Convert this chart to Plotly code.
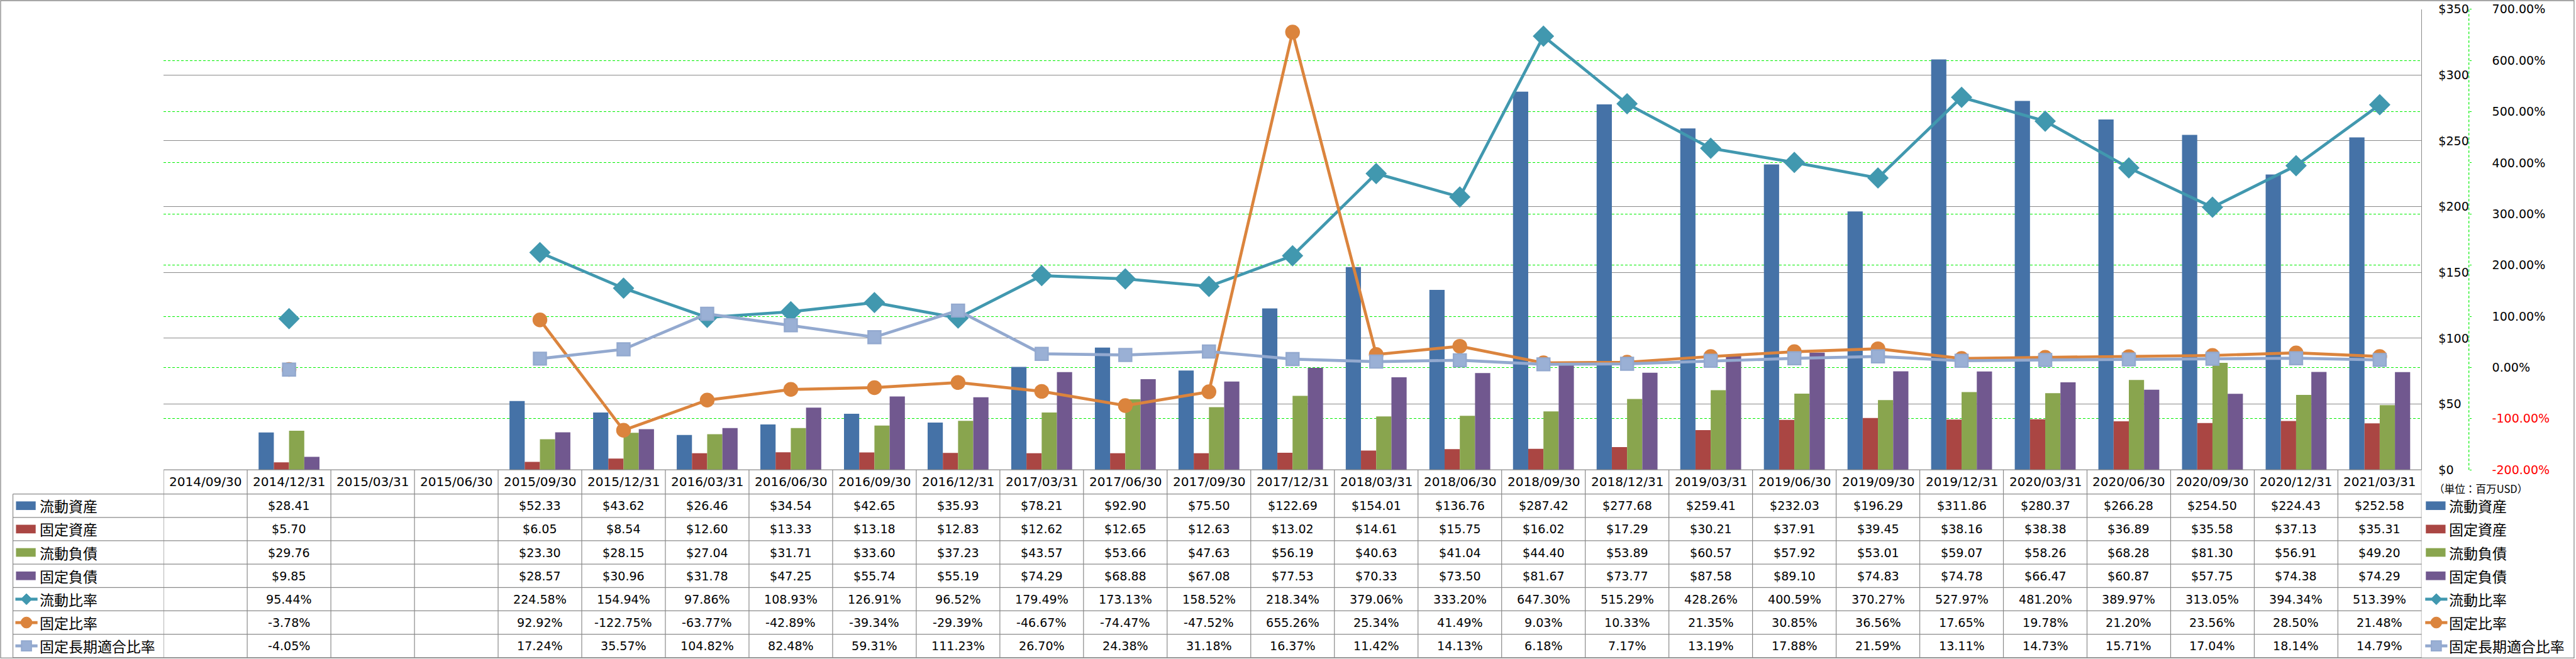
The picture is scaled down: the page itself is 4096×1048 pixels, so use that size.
import plotly.graph_objects as go

# ---------------- data ----------------
categories = ["2014/09/30", "2014/12/31", "2015/03/31", "2015/06/30", "2015/09/30", "2015/12/31",
              "2016/03/31", "2016/06/30", "2016/09/30", "2016/12/31", "2017/03/31", "2017/06/30",
              "2017/09/30", "2017/12/31", "2018/03/31", "2018/06/30", "2018/09/30", "2018/12/31",
              "2019/03/31", "2019/06/30", "2019/09/30", "2019/12/31", "2020/03/31", "2020/06/30",
              "2020/09/30", "2020/12/31", "2021/03/31"]

current_assets = [None, 28.41, None, None, 52.33, 43.62, 26.46, 34.54, 42.65, 35.93, 78.21, 92.90, 75.50,
                  122.69, 154.01, 136.76, 287.42, 277.68, 259.41, 232.03, 196.29, 311.86, 280.37, 266.28,
                  254.50, 224.43, 252.58]
fixed_assets = [None, 5.70, None, None, 6.05, 8.54, 12.60, 13.33, 13.18, 12.83, 12.62, 12.65, 12.63,
                13.02, 14.61, 15.75, 16.02, 17.29, 30.21, 37.91, 39.45, 38.16, 38.38, 36.89, 35.58,
                37.13, 35.31]
current_liabilities = [None, 29.76, None, None, 23.30, 28.15, 27.04, 31.71, 33.60, 37.23, 43.57, 53.66, 47.63,
                       56.19, 40.63, 41.04, 44.40, 53.89, 60.57, 57.92, 53.01, 59.07, 58.26, 68.28, 81.30,
                       56.91, 49.20]
fixed_liabilities = [None, 9.85, None, None, 28.57, 30.96, 31.78, 47.25, 55.74, 55.19, 74.29, 68.88, 67.08,
                     77.53, 70.33, 73.50, 81.67, 73.77, 87.58, 89.10, 74.83, 74.78, 66.47, 60.87, 57.75,
                     74.38, 74.29]
current_ratio = [None, 95.44, None, None, 224.58, 154.94, 97.86, 108.93, 126.91, 96.52, 179.49, 173.13, 158.52,
                 218.34, 379.06, 333.20, 647.30, 515.29, 428.26, 400.59, 370.27, 527.97, 481.20, 389.97,
                 313.05, 394.34, 513.39]
fixed_ratio = [None, -3.78, None, None, 92.92, -122.75, -63.77, -42.89, -39.34, -29.39, -46.67, -74.47, -47.52,
               655.26, 25.34, 41.49, 9.03, 10.33, 21.35, 30.85, 36.56, 17.65, 19.78, 21.20, 23.56, 28.50, 21.48]
fixed_lt_ratio = [None, -4.05, None, None, 17.24, 35.57, 104.82, 82.48, 59.31, 111.23, 26.70, 24.38, 31.18,
                  16.37, 11.42, 14.13, 6.18, 7.17, 13.19, 17.88, 21.59, 13.11, 14.73, 15.71, 17.04, 18.14, 14.79]

bar_names = ["流動資産", "固定資産", "流動負債", "固定負債"]
line_names = ["流動比率", "固定比率", "固定長期適合比率"]
unit_label = "（単位：百万USD）"

left_ticks = [0, 50, 100, 150, 200, 250, 300, 350]
right_ticks = [-200, -100, 0, 100, 200, 300, 400, 500, 600, 700]

# ---------------- styles ----------------
bar_colors = ["#4572A7", "#AA4643", "#89A54E", "#71588F"]
line_colors = ["#4198AF", "#DB843D", "#93A9CF"]
marker_symbols = ["diamond", "circle", "square"]

W, H = 4096, 1048
S = 0.978
GRID_GRAY = "#8A8A8A"
GREEN = "#00F000"
FONT_NUM = "DejaVu Sans"
FONT_CJK = "Noto Sans CJK JP"


def X(px):
    return px * S / W


def Y(py):
    return 1 - py * S / H


fig = go.Figure()

bar_series = [current_assets, fixed_assets, current_liabilities, fixed_liabilities]
for name, vals, col in zip(bar_names, bar_series, bar_colors):
    fig.add_trace(go.Bar(x=categories, y=vals, name=name, marker=dict(color=col, line=dict(width=0)),
                         yaxis="y", showlegend=False))

line_series = [current_ratio, fixed_ratio, fixed_lt_ratio]
marker_sizes = [24 * S, 21.5 * S, 20.5 * S]
marker_fill = ["#4198AF", "#DB843D", "#9AB0D5"]
for name, vals, col, sym, ms, mf in zip(line_names, line_series, line_colors, marker_symbols, marker_sizes,
                                        marker_fill):
    fig.add_trace(go.Scatter(x=categories, y=vals, name=name, mode="lines+markers", yaxis="y2",
                             connectgaps=False, showlegend=False,
                             line=dict(color=col, width=4.8 * S),
                             marker=dict(symbol=sym, size=ms, color=mf, line=dict(color=col, width=2.5 * S))))

left_text = [f"${v}" for v in left_ticks]
right_text = []
for v in right_ticks:
    t = f"{v:.2f}%"
    if v < 0:
        t = f'<span style="color:#FF0000">{t}</span>'
    right_text.append(t)

fig.update_layout(
    width=W, height=H,
    margin=dict(l=0, r=0, t=0, b=0, pad=0),
    paper_bgcolor="white", plot_bgcolor="white",
    barmode="group", bargap=0.272, bargroupgap=0,
    showlegend=False,
    xaxis=dict(domain=[X(266), X(3937)], range=[-0.5, len(categories) - 0.5], type="category",
               showticklabels=False, showgrid=False, zeroline=False, showline=False, ticks="",
               automargin=False, fixedrange=True),
    yaxis=dict(domain=[Y(764), Y(15)], range=[0, 350], side="right", anchor="x",
               tickmode="array", tickvals=left_ticks, ticktext=left_text,
               showgrid=True, gridcolor=GRID_GRAY, gridwidth=1.2,
               zeroline=False, showline=True, linecolor=GRID_GRAY, linewidth=1.2,
               ticks="", ticklabelstandoff=22, ticklabeloverflow="allow",
               tickfont=dict(family=FONT_NUM, size=19.5 * S, color="black"), automargin=False),
    yaxis2=dict(range=[-200, 700], overlaying="y", side="right", anchor="free", position=X(4014),
                tickmode="array", tickvals=right_ticks, ticktext=right_text,
                showgrid=True, gridcolor=GREEN, gridwidth=1.2,
                griddash="4px,3px", zeroline=False, showline=False,
                ticks="outside", ticklen=3, tickcolor=GREEN, tickwidth=1.2, ticklabelstandoff=29,
                ticklabeloverflow="allow",
                tickfont=dict(family=FONT_NUM, size=19.5 * S, color="black"), automargin=False),
)

shapes = []
shapes.append(dict(type="rect", xref="paper", yref="paper", x0=X(1), x1=X(4185), y0=Y(1070), y1=Y(1),
                   line=dict(color=GRID_GRAY, width=1.3), layer="below"))
shapes.append(dict(type="line", xref="paper", yref="paper", x0=X(4014), x1=X(4014), y0=Y(764), y1=Y(15),
                   line=dict(color=GREEN, width=1.2, dash="4px,3px")))

TABLE_TOP = 764
HEAD_BOT = 803.3
ROW_H = 38.0
n_rows = 7
TABLE_BOT = HEAD_BOT + n_rows * ROW_H

for k in range(len(categories) + 1):
    shapes.append(dict(type="line", xref="x", yref="paper", x0=k - 0.5, x1=k - 0.5,
                       y0=Y(TABLE_BOT), y1=Y(TABLE_TOP), line=dict(color=GRID_GRAY, width=1.2)))
shapes.append(dict(type="line", xref="paper", yref="paper", x0=X(21), x1=X(21),
                   y0=Y(TABLE_BOT), y1=Y(HEAD_BOT), line=dict(color=GRID_GRAY, width=1.2)))
shapes.append(dict(type="line", xref="paper", yref="paper", x0=X(266), x1=X(3937),
                   y0=Y(TABLE_TOP), y1=Y(TABLE_TOP), line=dict(color=GRID_GRAY, width=1.2)))
for r in range(n_rows + 1):
    yy = HEAD_BOT + r * ROW_H
    shapes.append(dict(type="line", xref="paper", yref="paper", x0=X(21), x1=X(3937),
                       y0=Y(yy), y1=Y(yy), line=dict(color=GRID_GRAY, width=1.2)))

annotations = []
for j, c in enumerate(categories):
    annotations.append(dict(x=c, xref="x", y=Y((TABLE_TOP + HEAD_BOT) / 2), yref="paper", text=c,
                            showarrow=False, xanchor="center", yanchor="middle",
                            font=dict(family=FONT_NUM, size=20.5 * S, color="black")))

all_series = bar_series + line_series
for i, vals in enumerate(all_series):
    yc = HEAD_BOT + (i + 0.5) * ROW_H
    for j, v in enumerate(vals):
        if v is None:
            continue
        t = f"${v:.2f}" if i < 4 else f"{v:.2f}%"
        annotations.append(dict(x=categories[j], xref="x", y=Y(yc), yref="paper", text=t,
                                showarrow=False, xanchor="center", yanchor="middle",
                                font=dict(family=FONT_NUM, size=19.5 * S, color="black")))


def legend_glyphs(x0):
    names = bar_names + line_names
    for i, nm in enumerate(names):
        yc = HEAD_BOT + (i + 0.5) * ROW_H
        if i < 4:
            shapes.append(dict(type="rect", xref="paper", yref="paper", x0=X(x0), x1=X(x0 + 32),
                               y0=Y(yc + 7), y1=Y(yc - 7), fillcolor=bar_colors[i], line=dict(width=0)))
        else:
            k = i - 4
            col = line_colors[k]
            shapes.append(dict(type="line", xref="paper", yref="paper", x0=X(x0 - 1), x1=X(x0 + 35),
                               y0=Y(yc), y1=Y(yc), line=dict(color=col, width=4.8 * S)))
            cx = x0 + 17
            r = 9
            if k == 0:
                path = (f"M {X(cx - r)},{Y(yc)} L {X(cx)},{Y(yc - r)} L {X(cx + r)},{Y(yc)} "
                        f"L {X(cx)},{Y(yc + r)} Z")
                shapes.append(dict(type="path", xref="paper", yref="paper", path=path, fillcolor=col,
                                   line=dict(color=col, width=1)))
            elif k == 1:
                shapes.append(dict(type="circle", xref="paper", yref="paper", x0=X(cx - r), x1=X(cx + r),
                                   y0=Y(yc + r), y1=Y(yc - r), fillcolor=col, line=dict(color=col, width=1)))
            else:
                shapes.append(dict(type="rect", xref="paper", yref="paper", x0=X(cx - r + 1), x1=X(cx + r - 1),
                                   y0=Y(yc + r - 1), y1=Y(yc - r + 1), fillcolor="#9AB0D5",
                                   line=dict(color=col, width=2)))
        annotations.append(dict(x=X(x0 + 36), xref="paper", y=Y(yc), yref="paper", text=nm,
                                showarrow=False, xanchor="left", yanchor="middle",
                                font=dict(family=FONT_CJK, size=23.5 * S, color="black")))


legend_glyphs(26)
legend_glyphs(3944)

annotations.append(dict(x=X(3955), xref="paper", y=Y(794), yref="paper", text=unit_label, showarrow=False,
                        xanchor="left", yanchor="middle",
                        font=dict(family=FONT_CJK, size=17 * S, color="black")))

fig.update_layout(shapes=shapes, annotations=annotations)

fig.write_html("out.html", config={"displayModeBar": False},
               post_script="document.body.style.margin='0';document.body.style.overflow='hidden';")
